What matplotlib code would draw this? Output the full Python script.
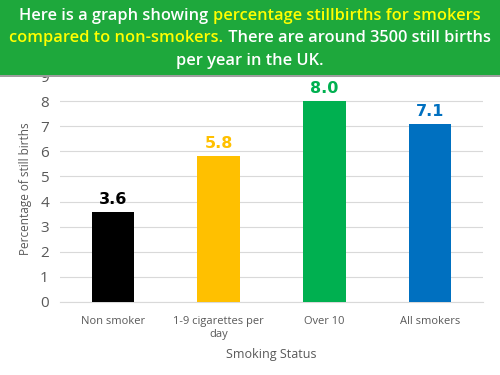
import matplotlib
matplotlib.use("Agg")
import matplotlib.pyplot as plt
from matplotlib.patches import Rectangle

categories = ["Non smoker", "1-9 cigarettes per\nday", "Over 10", "All smokers"]
values = [3.6, 5.8, 8.0, 7.1]
labels = ["3.6", "5.8", "8.0", "7.1"]
colors = ["#000000", "#FFC000", "#00B050", "#0070C0"]
yticks = list(range(0, 10))

fig = plt.figure(figsize=(5, 3.75), dpi=100)
ax = fig.add_axes([0.12, 0.195, 0.846, 0.602])

ax.bar(range(len(values)), values, width=0.4, color=colors, zorder=3)
for i, (v, l, c) in enumerate(zip(values, labels, colors)):
    ax.text(i, v + 0.2, l, ha="center", va="bottom", color=c,
            fontsize=11.5, fontweight="bold", family="DejaVu Sans")

ax.set_xlim(-0.5, 3.5)
ax.set_ylim(0, 9)
ax.set_yticks(yticks)
ax.set_xticks(range(len(categories)))
ax.set_xticklabels(categories, fontsize=8, color="#595959", family="Open Sans",
                   linespacing=1.25)
ax.set_yticklabels([str(t) for t in yticks], fontsize=11, color="#595959", family="Open Sans")
ax.tick_params(length=0, pad=8)
ax.tick_params(axis="x", pad=10)
ax.grid(axis="y", color="#d9d9d9", linewidth=0.8, zorder=0)
for s in ["top", "right", "left"]:
    ax.spines[s].set_visible(False)
ax.spines["bottom"].set_color("#d9d9d9")
ax.set_ylabel("Percentage of still births", fontsize=8.5, color="#595959", family="Open Sans", labelpad=6)
ax.set_xlabel("Smoking Status", fontsize=9, color="#595959", family="Open Sans", labelpad=6)

# banner
fig.patches.append(Rectangle((0.0, 0.794), 1.0, 0.006, transform=fig.transFigure,
                             facecolor="#9e9e9e", edgecolor="none", zorder=9))
fig.patches.append(Rectangle((0.0, 0.8), 1.0, 0.2, transform=fig.transFigure,
                             facecolor="#1EA83C", edgecolor="none", zorder=10))

lines = [
    [("Here is a graph showing ", "white"), ("percentage stillbirths for smokers", "#FFFF00")],
    [("compared to non-smokers.", "#FFFF00"), (" There are around 3500 still births", "white")],
    [("per year in the UK.", "white")],
]
ys = [0.958, 0.899, 0.838]
fig.canvas.draw()
renderer = fig.canvas.get_renderer()
W = fig.bbox.width
for segs, y in zip(lines, ys):
    texts = []
    for s, c in segs:
        t = fig.text(0, y, s, color=c, fontsize=11.8, fontweight="semibold",
                     family="Open Sans", va="center", ha="left", zorder=11)
        texts.append(t)
    widths = [t.get_window_extent(renderer).width for t in texts]
    total = sum(widths)
    x = (W - total) / 2
    for t, w in zip(texts, widths):
        t.set_x(x / W)
        x += w

fig.savefig("out.png", dpi=100)
